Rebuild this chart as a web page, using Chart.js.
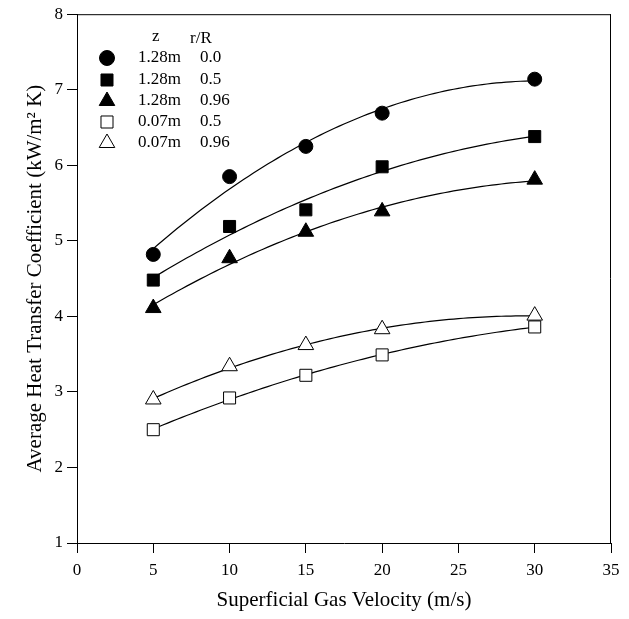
<!DOCTYPE html>
<html>
<head>
<meta charset="utf-8">
<script src="https://cdn.jsdelivr.net/npm/chart.js@4.4.0/dist/chart.umd.min.js"></script>
<style>
html, body { margin: 0; padding: 0; background: #fff; }
</style>
</head>
<body>
<canvas id="chart" width="629" height="619"></canvas>
<script>
// superficial gas velocity (m/s)
const velocity = [5, 10, 15, 20, 30];
// average heat transfer coefficient (kW/m2 K) for each z / r/R combination
const h128r00 = [4.82, 5.85, 6.25, 6.69, 7.14];
const h128r05 = [4.48, 5.19, 5.41, 5.98, 6.38];
const h128r096 = [4.11, 4.77, 5.12, 5.39, 5.81];
const h007r05 = [2.50, 2.92, 3.22, 3.49, 3.86];
const h007r096 = [2.90, 3.34, 3.62, 3.83, 4.01];

const zLabels = ['1.28m', '1.28m', '1.28m', '0.07m', '0.07m'];
const rLabels = ['0.0', '0.5', '0.96', '0.5', '0.96'];

const serif = "'Liberation Serif', 'Times New Roman', serif";

const series = [
  { data: h128r00, style: 'circle', fill: '#000', r: 7 },
  { data: h128r05, style: 'rect', fill: '#000', r: 8.5 },
  { data: h128r096, style: 'triangle', fill: '#000', r: 9 },
  { data: h007r05, style: 'rect', fill: '#fff', r: 8.5 },
  { data: h007r096, style: 'triangle', fill: '#fff', r: 9 }
];

// least squares y = a + b x + c x^2
function quadFit(xs, ys) {
  const s = [0, 0, 0, 0, 0], t = [0, 0, 0];
  xs.forEach((x, i) => {
    for (let k = 0; k < 5; k++) s[k] += Math.pow(x, k);
    for (let k = 0; k < 3; k++) t[k] += ys[i] * Math.pow(x, k);
  });
  const m = [[s[0], s[1], s[2], t[0]], [s[1], s[2], s[3], t[1]], [s[2], s[3], s[4], t[2]]];
  for (let i = 0; i < 3; i++) {
    for (let j = i + 1; j < 3; j++) {
      const f = m[j][i] / m[i][i];
      for (let k = i; k < 4; k++) m[j][k] -= f * m[i][k];
    }
  }
  const c = [0, 0, 0];
  for (let i = 2; i >= 0; i--) {
    let v = m[i][3];
    for (let k = i + 1; k < 3; k++) v -= m[i][k] * c[k];
    c[i] = v / m[i][i];
  }
  return c;
}

function marker(ctx, style, x, y, r, fill) {
  ctx.save();
  ctx.fillStyle = fill;
  ctx.strokeStyle = '#000';
  ctx.lineWidth = 1;
  ctx.beginPath();
  if (style === 'circle') {
    ctx.arc(x, y, r, 0, Math.PI * 2);
  } else if (style === 'rect') {
    const h = r * Math.SQRT1_2;
    ctx.rect(x - h, y - h, 2 * h, 2 * h);
  } else {
    ctx.moveTo(x, y - r);
    ctx.lineTo(x + r * Math.sin(Math.PI / 3), y + r / 2);
    ctx.lineTo(x - r * Math.sin(Math.PI / 3), y + r / 2);
    ctx.closePath();
  }
  ctx.fill();
  ctx.stroke();
  ctx.restore();
}

const fitLines = {
  id: 'fitLines',
  beforeDatasetsDraw(chart) {
    const { ctx, scales: { x, y } } = chart;
    ctx.save();
    ctx.strokeStyle = '#000';
    ctx.lineWidth = 1.2;
    series.forEach(s => {
      const c = quadFit(velocity, s.data);
      const x0 = velocity[0], x1 = velocity[velocity.length - 1];
      ctx.beginPath();
      for (let i = 0; i <= 80; i++) {
        const v = x0 + (x1 - x0) * i / 80;
        const px = x.getPixelForValue(v);
        const py = y.getPixelForValue(c[0] + c[1] * v + c[2] * v * v);
        if (i === 0) ctx.moveTo(px, py); else ctx.lineTo(px, py);
      }
      ctx.stroke();
    });
    ctx.restore();
  }
};

const frameAndLegend = {
  id: 'frameAndLegend',
  afterDraw(chart) {
    const { ctx, chartArea: a } = chart;
    ctx.save();
    ctx.strokeStyle = '#000';
    ctx.lineWidth = 1;
    ctx.beginPath();
    ctx.moveTo(a.left, a.top + 0.5);
    ctx.lineTo(a.right, a.top + 0.5);
    ctx.moveTo(a.right - 0.5, a.top);
    ctx.lineTo(a.right - 0.5, a.bottom);
    ctx.stroke();

    ctx.fillStyle = '#000';
    ctx.font = '17px ' + serif;
    ctx.textBaseline = 'middle';
    ctx.textAlign = 'left';
    ctx.fillText('z', 152, 37);
    ctx.fillText('r/R', 190, 39);
    const rows = [58, 80, 101, 122, 143];
    series.forEach((s, i) => {
      marker(ctx, s.style, 107, rows[i], s.style === 'circle' ? 7.5 : s.r, s.fill);
      ctx.fillStyle = '#000';
      ctx.fillText(zLabels[i], 138, rows[i]);
      ctx.fillText(rLabels[i], 200, rows[i]);
    });
    ctx.restore();
  }
};

new Chart(document.getElementById('chart'), {
  type: 'scatter',
  data: {
    datasets: series.map((s, i) => ({
      label: zLabels[i] + ' ' + rLabels[i],
      data: velocity.map((v, j) => ({ x: v, y: s.data[j] })),
      pointStyle: s.style,
      pointRadius: s.r,
      backgroundColor: s.fill,
      borderColor: '#000',
      borderWidth: 1,
      showLine: false
    }))
  },
  options: {
    responsive: false,
    animation: false,
    events: [],
    layout: { padding: { top: 14, right: 18, left: 0, bottom: 0 } },
    plugins: { legend: { display: false }, tooltip: { enabled: false } },
    scales: {
      x: {
        type: 'linear',
        min: 0,
        max: 35,
        ticks: { stepSize: 5, color: '#000', font: { family: serif, size: 17 }, padding: 7, maxRotation: 0 },
        grid: { drawOnChartArea: false, drawTicks: true, tickLength: 10, color: '#000' },
        border: { color: '#000', width: 1 },
        title: {
          display: true,
          text: 'Superficial Gas Velocity (m/s)',
          color: '#000',
          font: { family: serif, size: 21 },
          padding: { top: 0, bottom: 6 }
        },
        afterFit: s => { s.height = 76; }
      },
      y: {
        type: 'linear',
        min: 1,
        max: 8,
        ticks: { stepSize: 1, color: '#000', font: { family: serif, size: 17 }, padding: 4 },
        grid: { drawOnChartArea: false, drawTicks: true, tickLength: 10, color: '#000' },
        border: { color: '#000', width: 1 },
        title: {
          display: true,
          text: 'Average Heat Transfer Coefficient (kW/m² K)',
          color: '#000',
          font: { family: serif, size: 21 },
          padding: { top: 23, bottom: 0 }
        },
        afterFit: s => { s.width = 77; }
      }
    }
  },
  plugins: [fitLines, frameAndLegend]
});
</script>
</body>
</html>
